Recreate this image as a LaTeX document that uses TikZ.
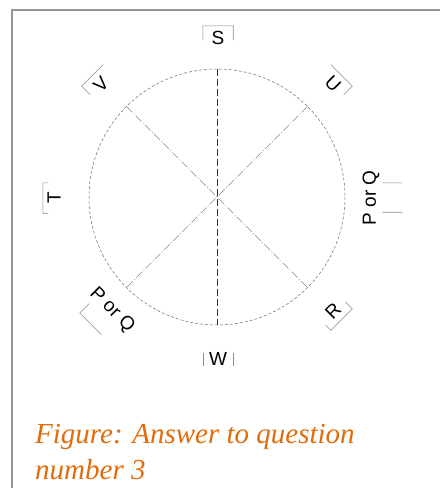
\documentclass[tikz,border=0pt]{standalone}
\usepackage{fontspec}
\setmainfont{Liberation Serif}
\setsansfont{Liberation Sans}
\usetikzlibrary{calc}
\definecolor{framegray}{RGB}{150,150,150}
\definecolor{linegray}{RGB}{110,110,110}
\definecolor{boxgray}{RGB}{140,140,140}
\definecolor{capor}{RGB}{227,108,10}
\begin{document}
\begin{tikzpicture}[x=1pt,y=-1pt,
  seat/.style={font=\sffamily\fontsize{19}{19}\selectfont, inner sep=0pt, minimum width=30pt, minimum height=24pt},
  emptyseat/.style={inner sep=0pt, minimum width=30pt, minimum height=26pt},
  label/.style={font=\sffamily\fontsize{19}{19}\selectfont, inner sep=0pt},
  side/.style={draw=boxgray, line width=0.6pt},
  captext/.style={font=\itshape\fontsize{29}{29}\selectfont, text=capor, anchor=base west, inner sep=0pt}]
\useasboundingbox (0,0) rectangle (440,488);
\fill[white] (0,0) rectangle (440,488);
% frame
\draw[framegray, line width=1.6pt] (12,488) -- (12,10) -- (440,10);
% circle and diameters
\coordinate (C) at (217,197);
\draw[linegray, line width=0.5pt, dash pattern=on 3pt off 2pt] (C) circle[radius=128];
\coordinate (Ntop) at (217,69);
\coordinate (Nbot) at (217,325);
\draw[black!80, line width=0.8pt, dash pattern=on 7pt off 3pt] (Ntop) -- (Nbot);
\coordinate (NW) at ($(C)+(-90.5,-90.5)$);
\coordinate (SE) at ($(C)+(90.5,90.5)$);
\coordinate (NE) at ($(C)+(90.5,-90.5)$);
\coordinate (SW) at ($(C)+(-90.5,90.5)$);
\draw[linegray!80, line width=0.5pt, dash pattern=on 8pt off 2pt on 1pt off 2pt] (NW) -- (SE);
\draw[linegray!80, line width=0.5pt, dash pattern=on 8pt off 2pt on 1pt off 2pt] (NE) -- (SW);
% labels
\node[seat] (S) at (218,38) {S};
\draw[side] ($(S.north west)!0.6!(S.south west)$) -- (S.north west) -- (S.north east) -- ($(S.north east)!0.6!(S.south east)$);
\node[seat, minimum height=20pt] (W) at (218,359) {W};
\draw[side] ($(W.north west)!0.2!(W.south west)$) -- ($(W.north west)!0.85!(W.south west)$);
\draw[side] ($(W.north east)!0.2!(W.south east)$) -- ($(W.north east)!0.85!(W.south east)$);
\node[seat, rotate=90, minimum height=22pt] (T) at (54,198) {T};
\draw[side] ($(T.north west)!0.25!(T.south west)$) -- (T.north west) -- (T.north east) -- ($(T.north east)!0.25!(T.south east)$);
\node[seat, rotate=45] (V) at (101,84) {V};
\draw[side] ($(V.north west)!0.5!(V.south west)$) -- (V.north west) -- (V.north east);
\node[seat, rotate=-45] (U) at (333,84) {U};
\draw[side] (U.north west) -- (U.north east) -- ($(U.north east)!0.5!(U.south east)$);
\node[seat, rotate=45] (R) at (333,311) {R};
\draw[side] ($(R.south west)!0.3!(R.north west)$) -- (R.south west) -- (R.south east) -- ($(R.south east)!0.4!(R.north east)$);
% right P or Q
\node[label, rotate=90] (PQr) at (371,198) {P or Q};
\node[emptyseat, rotate=90, minimum width=29pt, minimum height=28pt] (PQrbox) at (388,197.5) {};
\draw[side] (PQrbox.south east) -- ($(PQrbox.south east)!0.7!(PQrbox.north east)$);
\draw[side] (PQrbox.south west) -- ($(PQrbox.south west)!0.7!(PQrbox.north west)$);
% lower-left P or Q
\node[label, rotate=-45] (PQl) at (112,310) {P or Q};
\node[emptyseat, rotate=-45] (PQlbox) at (99.8,314.4) {};
\draw[side] ($(PQlbox.south west)!0.5!(PQlbox.north west)$) -- (PQlbox.south west) -- (PQlbox.south east);
% caption
\node[captext] (cap1) at (35,443) {Figure: Answer to question};
\node[captext] (cap2) at (35,479) {number 3};
\end{tikzpicture}
\end{document}
